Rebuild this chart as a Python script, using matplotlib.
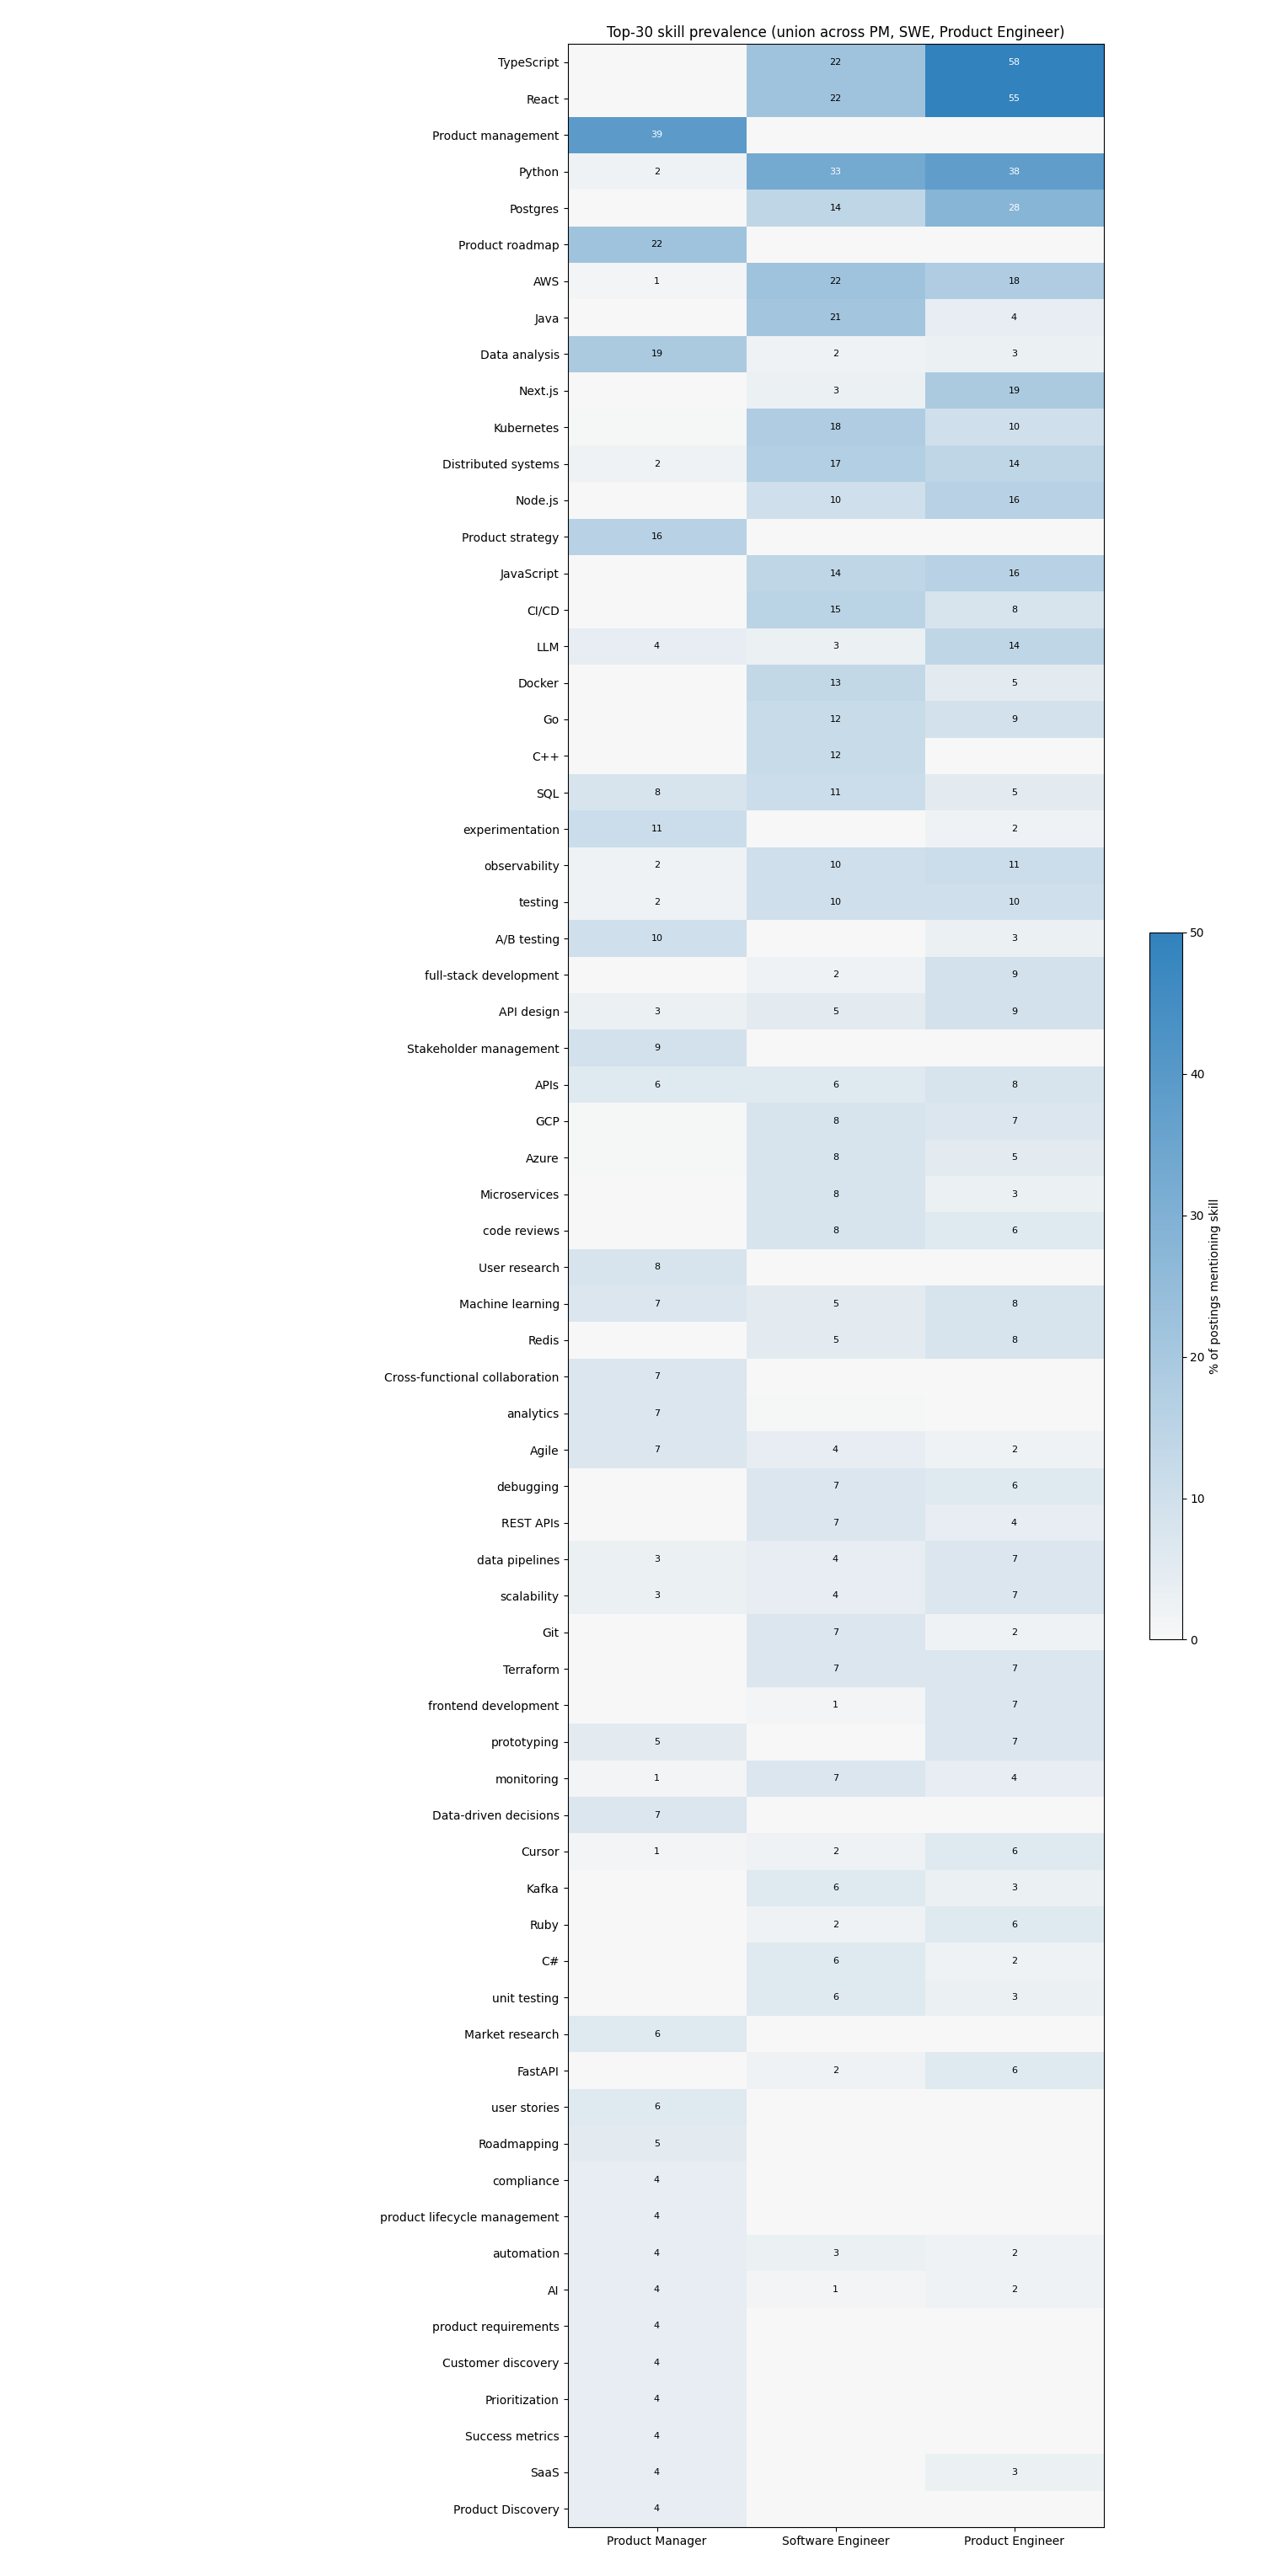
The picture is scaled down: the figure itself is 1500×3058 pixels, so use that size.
import matplotlib
matplotlib.use("Agg")
import matplotlib.pyplot as plt
import numpy as np
from matplotlib.colors import LinearSegmentedColormap

skills = ["TypeScript","React","Product management","Python","Postgres","Product roadmap","AWS","Java",
"Data analysis","Next.js","Kubernetes","Distributed systems","Node.js","Product strategy","JavaScript","CI/CD",
"LLM","Docker","Go","C++","SQL","experimentation","observability","testing","A/B testing","full-stack development",
"API design","Stakeholder management","APIs","GCP","Azure","Microservices","code reviews","User research",
"Machine learning","Redis","Cross-functional collaboration","analytics","Agile","debugging","REST APIs",
"data pipelines","scalability","Git","Terraform","frontend development","prototyping","monitoring",
"Data-driven decisions","Cursor","Kafka","Ruby","C#","unit testing","Market research","FastAPI","user stories",
"Roadmapping","compliance","product lifecycle management","automation","AI","product requirements",
"Customer discovery","Prioritization","Success metrics","SaaS","Product Discovery"]
roles = ["Product Manager","Software Engineer","Product Engineer"]
pm = [0,0,39,2,0,22,1,0,19,0,0.4,2,0,16,0,0,4,0,0,0,8,11,2,2,10,0,3,9,6,0.4,0.4,0,0,8,7,0,7,7,7,0,0,3,3,0,0,0,5,1,7,1,0,0,0,0,6,0,6,5,4,4,4,4,4,4,4,4,4,4]
swe = [22,22,0,33,14,0,22,21,2,3,18,17,10,0,14,15,3,13,12,12,11,0,10,10,0,2,5,0,6,8,8,8,8,0,5,5,0,0.4,4,7,7,4,4,7,7,1,0,7,0,2,6,2,6,6,0,2,0,0,0,0,3,1,0,0,0,0,0,0]
pe = [58,55,0,38,28,0,18,4,3,19,10,14,16,0,16,8,14,5,9,0,5,2,11,10,3,9,9,0,8,7,5,3,6,0,8,8,0,0,2,6,4,7,7,2,7,7,7,4,0,6,3,6,2,3,0,6,0,0,0,0,2,2,0,0,0,0,3,0]

data = np.array([pm, swe, pe]).T
cmap = LinearSegmentedColormap.from_list("c", ["#f7f7f7", "#3182bd"])

fig = plt.figure(figsize=(15, 30.58), dpi=100)
ax = fig.add_axes([0.449, 0.019, 0.424, 0.964])
cax = fig.add_axes([0.909, 0.3635, 0.026, 0.2745])
im = ax.imshow(data, aspect="auto", cmap=cmap, vmin=0, vmax=50, interpolation="nearest")
for i in range(data.shape[0]):
    for j in range(data.shape[1]):
        v = data[i, j]
        if round(v) >= 1:
            ax.text(j, i, f"{v:.0f}", ha="center", va="center", fontsize=8,
                    color="white" if v > 25 else "black")
ax.set_xticks(range(3))
ax.set_xticklabels(roles, fontsize=10)
ax.set_yticks(range(len(skills)))
ax.set_yticklabels(skills, fontsize=10)
ax.set_title("Top-30 skill prevalence (union across PM, SWE, Product Engineer)", fontsize=12)
cb = fig.colorbar(im, cax=cax)
cb.ax.tick_params(labelsize=10)
cb.set_label("% of postings mentioning skill", fontsize=10)
fig.savefig("out.png", dpi=100)
